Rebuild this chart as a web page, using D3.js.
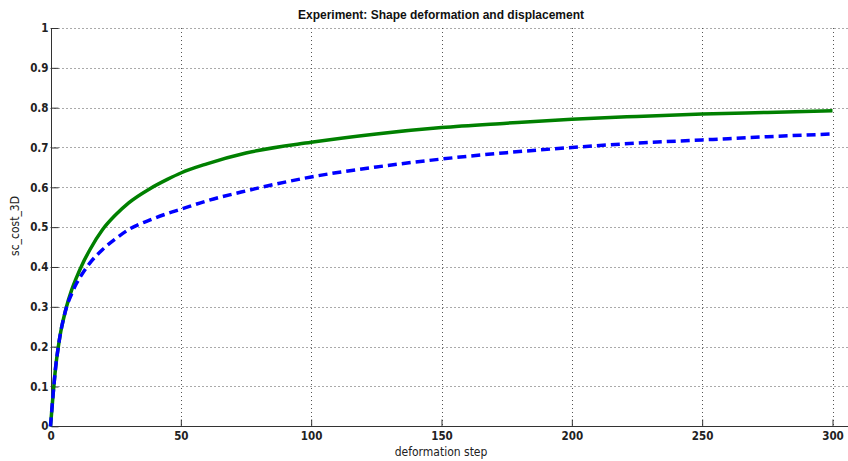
<!DOCTYPE html>
<html><head><meta charset="utf-8">
<script src="https://cdn.jsdelivr.net/npm/d3@7"></script>
<style>
body{margin:0;background:#fff;}
svg{display:block;}
text{font-family:"Liberation Sans",Arial,sans-serif;}
</style></head>
<body>
<svg id="c" width="848" height="461"></svg>
<script>
const title = "Experiment: Shape deformation and displacement";
const xLabel = "deformation step";
const yLabel = "sc_cost_3D";
const xTicks = [0, 50, 100, 150, 200, 250, 300];
const yTicks = [0, 0.1, 0.2, 0.3, 0.4, 0.5, 0.6, 0.7, 0.8, 0.9, 1];
const steps      = [0, 1, 2, 3, 4, 5, 6, 8, 10, 12, 15, 20, 25, 30, 38, 45, 50, 60, 75, 100, 125, 150, 175, 200, 225, 250, 275, 300];
const greenVals  = [0, 0.08, 0.15, 0.2, 0.24, 0.27, 0.297, 0.34, 0.374, 0.404, 0.442, 0.494, 0.531, 0.561, 0.596, 0.6205, 0.636, 0.659, 0.686, 0.713, 0.734, 0.75, 0.761, 0.771, 0.778, 0.784, 0.788, 0.792];
const blueVals   = [0, 0.08, 0.15, 0.2, 0.24, 0.27, 0.296, 0.331, 0.359, 0.381, 0.409, 0.444, 0.471, 0.494, 0.5176, 0.5345, 0.545, 0.566, 0.591, 0.626, 0.651, 0.671, 0.687, 0.700, 0.711, 0.719, 0.727, 0.734];

const svg = d3.select("#c");
const x0 = 50.5, x300 = 832.5, yTop = 28, yBot = 426.3;
const x = d3.scaleLinear().domain([0, 300]).range([x0, x300]);
const y = d3.scaleLinear().domain([0, 1]).range([yBot, yTop]);
const xEnd = 848;

// grid
const grid = svg.append("g").attr("stroke", "#555").attr("stroke-width", 1).attr("stroke-dasharray", "1,3");
grid.selectAll("line.h").data(yTicks.filter(d => d > 0)).join("line")
  .attr("x1", x0).attr("x2", xEnd)
  .attr("y1", d => Math.round(y(d)) + 0.5).attr("y2", d => Math.round(y(d)) + 0.5);
grid.selectAll("line.v").data(xTicks.filter(d => d > 0)).join("line")
  .attr("y1", yTop).attr("y2", yBot)
  .attr("x1", d => Math.round(x(d)) + 0.5).attr("x2", d => Math.round(x(d)) + 0.5);

// axes
const xAxis = d3.axisBottom(x).tickValues(xTicks).tickFormat(d3.format("d")).tickSizeInner(-7).tickSizeOuter(0).tickPadding(5);
const yAxis = d3.axisLeft(y).tickValues(yTicks).tickFormat(d => d === 0 ? "0" : d === 1 ? "1" : d3.format(".1f")(d)).tickSizeInner(-7).tickSizeOuter(0).tickPadding(3);

const gx = svg.append("g").attr("transform", `translate(0,${Math.round(yBot)+0.5})`).call(xAxis);
gx.select(".domain").attr("d", `M${x0},0H${xEnd}`);
const gy = svg.append("g").attr("transform", `translate(${Math.round(x0)+0.5},0)`).call(yAxis);
gy.select(".domain").attr("d", `M0,${yTop}V${yBot}`);
[gx, gy].forEach(g => {
  g.select(".domain").attr("stroke", "#333");
  g.selectAll(".tick line").attr("stroke", "#333");
  g.selectAll(".tick text").attr("font-size", 11.5).attr("font-weight", "bold").attr("fill", "#222")
    .style("font-family", "'Liberation Sans Narrow','DejaVu Sans Condensed','Liberation Sans',sans-serif");
});

// lines
const line = vals => d3.line().curve(d3.curveMonotoneX).x((d, i) => x(steps[i])).y(d => y(d))(vals);
svg.append("path").attr("d", line(greenVals)).attr("fill", "none").attr("stroke", "#008000").attr("stroke-width", 3.5);
svg.append("path").attr("d", line(blueVals)).attr("fill", "none").attr("stroke", "#0000ff").attr("stroke-width", 3.5).attr("stroke-dasharray", "9,5");

// labels
svg.append("text").attr("x", 441).attr("y", 19).attr("text-anchor", "middle").attr("font-size", 12).attr("font-weight", "bold").attr("fill", "#111").text(title);
svg.append("text").attr("x", 441).attr("y", 456).attr("text-anchor", "middle").attr("font-size", 12).attr("fill", "#222")
  .style("font-family", "'Liberation Sans Narrow','DejaVu Sans Condensed','Liberation Sans',sans-serif").text(xLabel);
svg.append("text").attr("transform", "translate(19,226) rotate(-90)").attr("text-anchor", "middle").attr("font-size", 12).attr("fill", "#222")
  .style("font-family", "'Liberation Sans Narrow','DejaVu Sans Condensed','Liberation Sans',sans-serif").text(yLabel);
</script>
</body></html>
